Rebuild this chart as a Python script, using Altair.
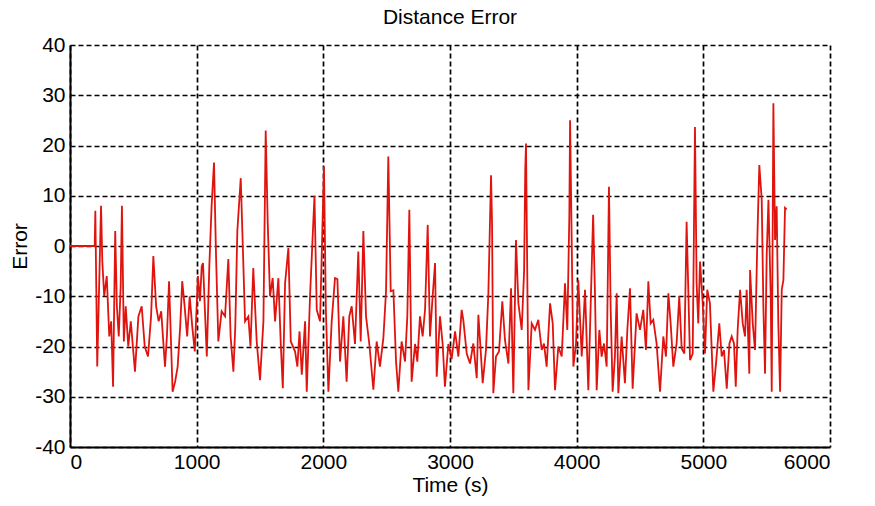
import altair as alt
import pandas as pd

# Sample times (s) and distance error values
times = [
    0, 195, 200, 215, 245, 255, 270, 290, 310, 325, 340, 357, 370, 385, 400, 410, 425, 440, 460, 480,
    513, 540, 566, 590, 616, 640, 658, 680, 700, 720, 750, 765, 782, 810, 830, 850, 870, 886, 905, 925,
    945, 965, 985, 1010, 1026, 1040,
    1050, 1080, 1100, 1118, 1137, 1153, 1171, 1197, 1224, 1250, 1268, 1290, 1305, 1321, 1348, 1363, 1382,
    1408, 1425, 1447, 1474, 1500, 1527, 1545, 1561, 1579, 1600, 1619, 1645, 1664, 1680, 1698, 1724, 1743,
    1777, 1795, 1812, 1830, 1856, 1869, 1895, 1930, 1948, 1974, 2005, 2020, 2040, 2066,
    2092, 2111, 2132, 2158, 2184, 2205, 2224, 2250, 2276, 2295, 2316, 2337, 2363, 2395, 2421, 2447, 2474,
    2495, 2513, 2532, 2553, 2574, 2592, 2618, 2645, 2663, 2679, 2697, 2724, 2742, 2763, 2784, 2803, 2824,
    2842, 2863, 2882, 2895, 2921, 2942, 2960, 2987, 3013, 3040, 3066, 3092,
    3105, 3132, 3158, 3184, 3211, 3224, 3242, 3258, 3284, 3303, 3324, 3332, 3342, 3363, 3387, 3413, 3434,
    3461, 3482, 3500, 3521, 3540, 3566, 3585, 3594, 3600, 3619, 3645, 3671, 3697, 3724, 3742, 3763, 3790,
    3811, 3829, 3855, 3882, 3908, 3926, 3942, 3948, 3974, 3995, 4013, 4040, 4066, 4092, 4111, 4130,
    4145, 4158, 4179, 4197, 4216, 4237, 4255, 4268, 4284, 4302, 4316, 4329, 4355, 4381, 4400, 4421, 4442,
    4473, 4500, 4526, 4547, 4566, 4584, 4605, 4631, 4658, 4684, 4705, 4724, 4742, 4763, 4789, 4810, 4829,
    4850, 4868, 4895, 4916, 4934, 4947, 4960, 4974, 4995, 5013, 5031, 5052, 5079, 5100, 5126, 5145,
    5163, 5185, 5206, 5224, 5242, 5256, 5271, 5290, 5311, 5329, 5342, 5363, 5369, 5390, 5408, 5427, 5442,
    5461, 5474, 5487, 5500, 5514, 5532, 5540, 5553, 5566, 5579, 5592, 5606, 5619, 5632, 5645, 5658,
]
errors = [
    0, 0, 7, -24, 8, -3, -10, -6, -18, -15, -28, 3, -12, -18, -8, 8, -19, -12, -20, -15,
    -25, -14, -12, -20, -22, -14, -2, -12, -15, -13, -24, -18, -7, -29, -27, -24, -16, -7, -12, -18,
    -10, -16, -21, -6, -11, -4,
    -3.4, -22, -4, 8, 16.6, -2, -19, -13, -14, -2.6, -18, -25, -16, 3, 13.5, 1, -15,
    -14, -20, -4.4, -19, -26.7, -15, 23, 4.6, -10, -6.4, -15, -6.4, -19.5, -28.3, -7.4, -0.4, -19,
    -21, -24, -17, -25.6, -15, -29, -10, 10, -12.7, -15, 15.8, -12.7, -29, -15,
    -6.4, -6.6, -23, -14, -27, -14, -12, -19.5, -1.1, -19, 3, -14, -19.5, -28.6, -19, -24, -18.3,
    -9, 17.8, -9, -8.8, -23, -29, -19, -23, -14, 7.2, -27, -19.5, -23, -14, -18, -12.7, 4.2,
    -18, -10, -3.4, -26, -14, -19.5, -28, -19.5, -22.5, -17, -22, -12.7,
    -14.7, -21.4, -23.4, -19.4, -26.3, -13.7, -20.7, -27.3, -20.7, -9.4, 14.1, 4.5, -29.3, -22, -21, -11, -18.7,
    -23.4, -8.4, -29.3, 1.2, -11.4, -16.7, -5, 15, 20.4, -28.7, -15.4, -16.7, -14.7, -20.7, -19.4, -24, -11.4,
    -15.4, -28.7, -20, -22, -7.4, -16.7, 5.8, 25, -24, -19.4, -6.8, -22, -8.7, -28.7, -11.4, 6.2,
    -10, -28.7, -16.7, -22, -19.4, -24, 11.8, -12, -29, -22, -9.4, -29.3, -18, -27.3, -16.7, -8.4, -28.4,
    -13.4, -16.7, -12.7, -20.7, -7, -15.4, -14.7, -19.4, -29, -18, -22, -9.4, -15.4, -24, -19.4, -10, -20.4,
    -21.4, 4.8, -22.7, -21.4, 23.7, -7.4, -15.4, -3.1, -11.4, -21.4, -8.7, -11.4, -29, -23.4, -15.4, -22,
    -20.7, -28.4, -19.4, -18, -19.4, -28, -16.7, -8.7, -15.4, -18, -8.7, -25.4, -4.8, -15.4, -20.7, 2, 16.1,
    9.2, -12, -25.4, -2.1, 9.2, -10, -29, 28.4, 1.2, 7.9, -15.4, -29, -8.7, -6.8, 7.6, 7.3,
]
x_ticks = [0, 1000, 2000, 3000, 4000, 5000, 6000]
y_ticks = [-40, -30, -20, -10, 0, 10, 20, 30, 40]

df = pd.DataFrame({"t": times, "err": errors})

FONT = "Liberation Sans"

chart = alt.Chart(df).mark_line(color="#e0140f", strokeWidth=1.8).encode(
    x=alt.X("t:Q", scale=alt.Scale(domain=[0, 6000], nice=False, zero=False),
            axis=alt.Axis(values=x_ticks, title="Time (s)", labelPadding=4, titlePadding=2,
                          labelExpr="'' + datum.value")),
    y=alt.Y("err:Q", scale=alt.Scale(domain=[-40, 40], nice=False),
            axis=alt.Axis(values=y_ticks, title="Error", labelPadding=5, titlePadding=4,
                          labelExpr="'' + datum.value")),
).properties(
    width=760, height=402,
    title=alt.TitleParams("Distance Error", fontSize=21, fontWeight="normal", font=FONT,
                          color="black", offset=6),
    autosize=alt.AutoSizeParams(type="none"),
    padding={"left": 70, "top": 45, "right": 45, "bottom": 59},
).configure_view(
    stroke=None
).configure_axis(
    grid=True, gridColor="black", gridDash=[5, 3], gridWidth=1.7, gridOpacity=1,
    domainColor="black", domainWidth=2, ticks=False,
    labelFont=FONT, labelFontSize=21, labelColor="black",
    titleFont=FONT, titleFontSize=21, titleFontWeight="normal", titleColor="black",
)

chart.save("out.html", embed_options={"renderer": "svg", "actions": False})
